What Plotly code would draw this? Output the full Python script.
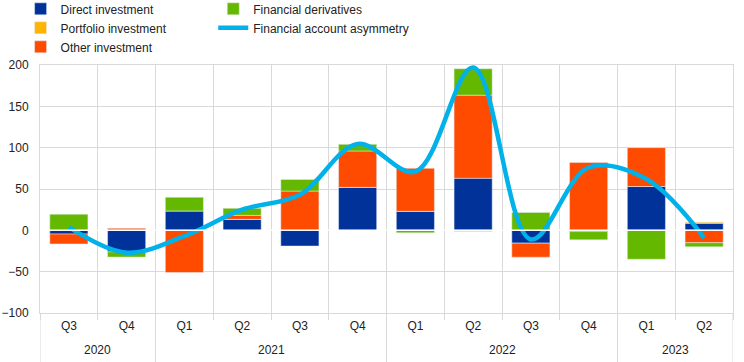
import plotly.graph_objects as go

years = ["2020", "2020", "2021", "2021", "2021", "2021",
         "2022", "2022", "2022", "2022", "2023", "2023"]
quarters = ["Q3", "Q4", "Q1", "Q2", "Q3", "Q4",
            "Q1", "Q2", "Q3", "Q4", "Q1", "Q2"]

direct_investment = [-4.5, -26, 23.5, 13.3, -19, 52, 23, 63, -15.5, -1.5, 53, 8.5]
portfolio_investment = [0, 0, 0, 0, 0, 0, 0, -1.5, 0, 0, 0, 1.2]
other_investment = [-12, 2.4, -51, 4.8, 47.5, 44, 52, 100.5, -17, 82, 47, -15]
financial_derivatives = [19.5, -6.4, 16.5, 8.5, 14, 8, -3, 32, 21.7, -10, -35, -5]
asymmetry = [4, -27, -7, 25, 43, 104.5, 71, 197, -11, 76, 62, -9]

pos = list(range(len(quarters)))
font_family = "Liberation Sans, Arial, sans-serif"
grid_col = "#d9d9d9"
text_col = "#222222"

fig = go.Figure()
fig.add_trace(go.Bar(x=pos, y=direct_investment, name="Direct investment",
                     marker_color="#003299", legend="legend", legendrank=1))
fig.add_trace(go.Bar(x=pos, y=portfolio_investment, name="Portfolio investment",
                     marker_color="#FFB400", legend="legend", legendrank=2))
fig.add_trace(go.Bar(x=pos, y=other_investment, name="Other investment",
                     marker_color="#FF4B00", legend="legend", legendrank=3))
fig.add_trace(go.Bar(x=pos, y=financial_derivatives, name="Financial derivatives",
                     marker_color="#65B800", legend="legend2", legendrank=1))
fig.add_trace(go.Scatter(x=pos, y=asymmetry, name="Financial account asymmetry",
                         mode="lines", line=dict(color="#00B1EA", width=4.5,
                                                 shape="spline", smoothing=1.0),
                         legend="legend2", legendrank=2))

# white line at zero
fig.add_shape(type="line", xref="paper", x0=0, x1=1, yref="y", y0=0, y1=0,
              line=dict(color="white", width=1.5), layer="above")

# year group labels and dividers
year_list = []
for yr in years:
    if yr not in year_list:
        year_list.append(yr)
boundaries = [-0.5]
for yr in year_list:
    idx = [i for i, v in enumerate(years) if v == yr]
    fig.add_annotation(x=sum(idx) / len(idx), xref="x", y=-0.15, yref="paper",
                       text=yr, showarrow=False, yanchor="middle",
                       font=dict(family=font_family, size=12, color=text_col))
    boundaries.append(max(idx) + 0.5)
for b in boundaries:
    fig.add_shape(type="line", xref="x", x0=b, x1=b, yref="paper", y0=0, y1=-0.2,
                  line=dict(color=grid_col, width=1))

legend_common = dict(orientation="v", yanchor="top", xanchor="left",
                     font=dict(family=font_family, size=12, color=text_col),
                     bgcolor="rgba(0,0,0,0)", tracegroupgap=0, itemwidth=30)

fig.update_layout(
    width=744, height=362,
    margin=dict(l=40, r=11, t=65, b=49, autoexpand=False),
    paper_bgcolor="white", plot_bgcolor="white",
    barmode="relative", bargap=0.34,
    font=dict(family=font_family, size=12, color=text_col),
    showlegend=True,
    legend=dict(x=-0.028, y=1.285, **legend_common),
    legend2=dict(x=0.25, y=1.285, **legend_common),
    xaxis=dict(range=[-0.5, len(quarters) - 0.5], tickmode="array",
               tickvals=pos, ticktext=quarters, showgrid=False, ticks="",
               ticklabelstandoff=2, zeroline=False,
               showline=True, linecolor=grid_col, mirror=True,
               tickfont=dict(size=12, color=text_col),
               minor=dict(tickmode="array",
                          tickvals=[p - 0.5 for p in pos] + [pos[-1] + 0.5],
                          showgrid=True, gridcolor=grid_col, gridwidth=1,
                          ticks="outside", ticklen=6, tickcolor=grid_col)),
    yaxis=dict(range=[-100, 200], dtick=50, showgrid=True, gridcolor=grid_col,
               gridwidth=1, zeroline=False, showline=True, linecolor=grid_col,
               mirror=True, ticks="", ticklabelstandoff=8,
               tickfont=dict(size=12, color=text_col)),
)

fig.write_html("out.html", config={"displayModeBar": False},
               post_script="document.body.style.margin='0';document.body.style.padding='0';")
